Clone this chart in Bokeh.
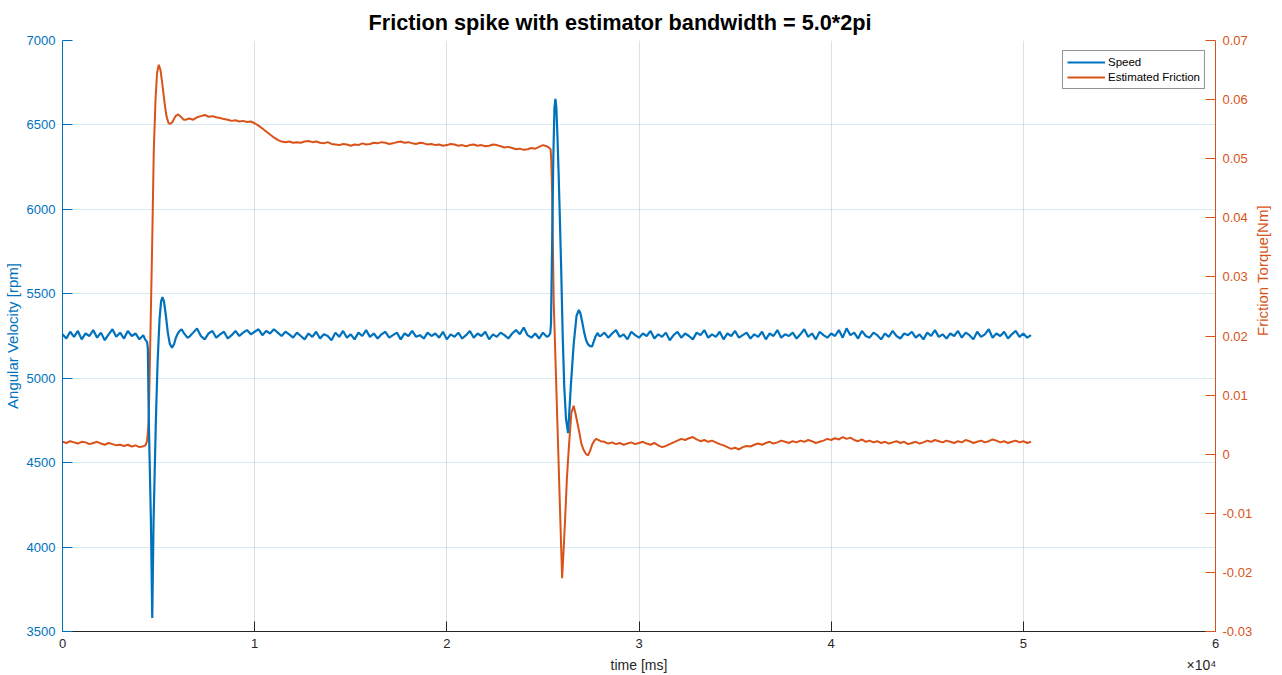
import numpy as np
from bokeh.plotting import figure
from bokeh.models import (Range1d, LinearAxis, FixedTicker, CustomJSTickFormatter,
                          Legend, LegendItem, ColumnDataSource)
from bokeh.embed import file_html
from bokeh.resources import INLINE

# ---------------- data ----------------
# Speed [rpm]
speed_t_a = list(range(0, 4201, 200))
speed_v_a = [5260, 5235, 5275, 5245, 5280, 5230, 5265, 5250, 5285, 5240, 5270,
             5225, 5260, 5290, 5245, 5270, 5235, 5280, 5250, 5265, 5230, 5255]
speed_t_tr1 = [4300, 4400, 4440, 4490, 4600, 4670, 4740, 4860, 4950, 5050, 5130, 5200,
               5280, 5380, 5480, 5580, 5700, 5800, 5900, 6000, 6100, 6200, 6300, 6400, 6500]
speed_v_tr1 = [5230, 5215, 5180, 4754, 4160, 3580, 4160, 4754, 5100, 5350, 5455, 5480,
               5455, 5370, 5270, 5205, 5180, 5200, 5240, 5265, 5280, 5290, 5270, 5255, 5240]
speed_t_b = list(range(6600, 25201, 200))
speed_v_b = [5245, 5270, 5295, 5250, 5230, 5265, 5280, 5240, 5260, 5275,
             5235, 5255, 5280, 5250, 5270, 5285, 5260, 5275, 5290, 5255,
             5280, 5265, 5290, 5270, 5250, 5275, 5260, 5240, 5270, 5250,
             5230, 5265, 5245, 5275, 5235, 5260, 5250, 5225, 5270, 5245,
             5280, 5240, 5260, 5230, 5270, 5250, 5285, 5245, 5265, 5235,
             5260, 5275, 5240, 5255, 5270, 5230, 5265, 5250, 5280, 5245,
             5255, 5235, 5270, 5250, 5265, 5240, 5275, 5230, 5260, 5245,
             5270, 5235, 5255, 5280, 5240, 5265, 5250, 5275, 5230, 5260,
             5245, 5270, 5255, 5235, 5265, 5285, 5260, 5300, 5255, 5240,
             5265, 5235, 5270, 5245]
speed_t_tr2 = [25300, 25380, 25420, 25480, 25540, 25600, 25650, 25700, 25760, 25820,
               25870, 25950, 26030, 26110, 26200, 26310, 26450, 26600, 26750, 26870,
               26950, 27050, 27150, 27250, 27350, 27450, 27560, 27650, 27750, 27850, 27930]
speed_v_tr2 = [5250, 5265, 5320, 5800, 6300, 6600, 6655, 6600, 6420, 6200,
               5995, 5650, 5250, 4950, 4760, 4675, 4950, 5200, 5370, 5404,
               5385, 5330, 5270, 5225, 5200, 5190, 5188, 5220, 5250, 5268, 5250]
speed_t_c = list(range(28000, 50401, 200))
speed_v_c = [5250, 5270, 5240, 5265, 5285, 5245, 5260, 5230, 5275, 5255,
             5240, 5265, 5250, 5280, 5235, 5260, 5245, 5270, 5225, 5255,
             5275, 5240, 5265, 5250, 5230, 5270, 5255, 5285, 5240, 5260,
             5245, 5275, 5230, 5265, 5250, 5280, 5240, 5255, 5270, 5235,
             5260, 5245, 5275, 5230, 5265, 5250, 5285, 5240, 5260, 5250,
             5270, 5235, 5260, 5290, 5245, 5265, 5230, 5275, 5255, 5240,
             5265, 5250, 5285, 5240, 5295, 5255, 5270, 5235, 5280, 5250,
             5240, 5270, 5255, 5230, 5265, 5245, 5280, 5250, 5235, 5265,
             5255, 5275, 5240, 5260, 5230, 5270, 5250, 5285, 5245, 5260,
             5235, 5265, 5250, 5280, 5240, 5270, 5255, 5230, 5275, 5245,
             5260, 5290, 5240, 5265, 5250, 5275, 5235, 5260, 5280, 5245,
             5265, 5240, 5255]

# Estimated friction [Nm]
fric_t_a = list(range(0, 4001, 200))
fric_v_a = [0.0021, 0.0019, 0.0022, 0.0020, 0.0018, 0.0021, 0.0020, 0.0017, 0.0019, 0.0021,
            0.0018, 0.0016, 0.0019, 0.0017, 0.0015, 0.0016, 0.0014, 0.0016, 0.0013, 0.0015, 0.0012]
fric_t_tr1 = [4150, 4250, 4320, 4400, 4450, 4490, 4580, 4670, 4750, 4840, 4920, 5010,
              5100, 5200, 5310, 5410, 5520, 5620, 5720, 5880, 6020, 6190, 6300]
fric_v_tr1 = [0.0013, 0.0014, 0.0015, 0.0022, 0.0040, 0.0060, 0.0210, 0.0362, 0.0514, 0.0600,
              0.0645, 0.0659, 0.0650, 0.0625, 0.0595, 0.0572, 0.0560, 0.0559, 0.0562, 0.0572,
              0.0575, 0.0570, 0.0566]
fric_t_b = list(range(6400, 25201, 200))
fric_v_b = [0.0566, 0.0568, 0.0566, 0.0570, 0.0572, 0.0574, 0.0571, 0.0572, 0.0570, 0.0569,
            0.0567, 0.0566, 0.0564, 0.0565, 0.0563, 0.0564, 0.0562, 0.0563, 0.0560, 0.0556,
            0.0551, 0.0546, 0.0541, 0.0536, 0.0532, 0.0529, 0.0528, 0.0529, 0.0527, 0.0528,
            0.0527, 0.0529, 0.0530, 0.0528, 0.0529, 0.0527, 0.0526, 0.0528, 0.0525, 0.0524,
            0.0523, 0.0525, 0.0524, 0.0522, 0.0524, 0.0523, 0.0526, 0.0524, 0.0525, 0.0527,
            0.0526, 0.0528, 0.0527, 0.0525, 0.0526, 0.0528, 0.0529, 0.0527, 0.0528, 0.0526,
            0.0525, 0.0527, 0.0526, 0.0524, 0.0525, 0.0523, 0.0524, 0.0522, 0.0523, 0.0525,
            0.0524, 0.0522, 0.0523, 0.0521, 0.0523, 0.0524, 0.0522, 0.0523, 0.0521, 0.0522,
            0.0524, 0.0523, 0.0521, 0.0519, 0.0520, 0.0518, 0.0516, 0.0517, 0.0515, 0.0516,
            0.0518, 0.0517, 0.0520, 0.0523, 0.0521]
fric_t_tr2 = [25300, 25400, 25430, 25480, 25530, 25560, 25650, 25780, 25900, 26000,
              26080, 26170, 26250, 26340, 26480, 26600, 26700, 26870, 27000, 27120,
              27250, 27350, 27460, 27560, 27680, 27780, 27900, 28000]
fric_v_tr2 = [0.0519, 0.0516, 0.0500, 0.0442, 0.0330, 0.0260, 0.0164, 0.0025, -0.0105, -0.0210,
              -0.0160, -0.0099, -0.0040, 0.0007, 0.0070, 0.0082, 0.0068, 0.0041, 0.0018, 0.0007,
              0.0000, -0.0002, 0.0006, 0.0016, 0.0023, 0.0026, 0.0024, 0.0022]
fric_t_c = list(range(28200, 50401, 200))
fric_v_c = [0.0021, 0.0018, 0.0020, 0.0017, 0.0019, 0.0016, 0.0018, 0.0020, 0.0017, 0.0019,
            0.0021, 0.0018, 0.0016, 0.0019, 0.0015, 0.0012, 0.0014, 0.0017, 0.0020, 0.0023,
            0.0026, 0.0024, 0.0027, 0.0029, 0.0025, 0.0022, 0.0024, 0.0021, 0.0023, 0.0020,
            0.0017, 0.0015, 0.0012, 0.0009, 0.0011, 0.0008, 0.0012, 0.0014, 0.0013, 0.0016,
            0.0018, 0.0016, 0.0019, 0.0021, 0.0018, 0.0020, 0.0023, 0.0021, 0.0019, 0.0022,
            0.0020, 0.0023, 0.0021, 0.0024, 0.0022, 0.0019, 0.0021, 0.0023, 0.0026, 0.0024,
            0.0027, 0.0025, 0.0029, 0.0026, 0.0028, 0.0024, 0.0022, 0.0025, 0.0021, 0.0023,
            0.0020, 0.0022, 0.0019, 0.0021, 0.0018, 0.0020, 0.0022, 0.0019, 0.0021, 0.0017,
            0.0019, 0.0021, 0.0018, 0.0020, 0.0023, 0.0021, 0.0024, 0.0022, 0.0020, 0.0023,
            0.0021, 0.0019, 0.0022, 0.0020, 0.0024, 0.0022, 0.0019, 0.0021, 0.0023, 0.0020,
            0.0022, 0.0025, 0.0023, 0.0020, 0.0022, 0.0019, 0.0021, 0.0023, 0.0020, 0.0022,
            0.0019, 0.0021]

x_ticks = [0, 10000, 20000, 30000, 40000, 50000, 60000]
left_ticks = [3500, 4000, 4500, 5000, 5500, 6000, 6500, 7000]
right_ticks = [-0.03, -0.02, -0.01, 0.0, 0.01, 0.02, 0.03, 0.04, 0.05, 0.06, 0.07]

title_text = "Friction spike with estimator bandwidth = 5.0*2pi"
xlabel_text = "time [ms]"
xexp_text = "\u00d710\u2074"
ylabel_left = "Angular Velocity [rpm]"
ylabel_right = "Friction Torque[Nm]"
series_names = ["Speed", "Estimated Friction"]

speed_t = speed_t_a + speed_t_tr1 + speed_t_b + speed_t_tr2 + speed_t_c
speed_v = speed_v_a + speed_v_tr1 + speed_v_b + speed_v_tr2 + speed_v_c
fric_t = fric_t_a + fric_t_tr1 + fric_t_b + fric_t_tr2 + fric_t_c
fric_v = fric_v_a + fric_v_tr1 + fric_v_b + fric_v_tr2 + fric_v_c
assert len(speed_t) == len(speed_v), (len(speed_t), len(speed_v))
assert len(fric_t) == len(fric_v), (len(fric_t), len(fric_v))

# ---------------- styling ----------------
BLUE = "#0072BD"
ORANGE = "#D95319"
DARK = "#262626"
FONT = "Liberation Sans"

p = figure(width=1282, height=675, output_backend="svg", toolbar_location=None,
           x_range=Range1d(0, 60000), y_range=Range1d(3500, 7000),
           min_border_left=62, min_border_right=67, min_border_top=40, min_border_bottom=43)
p.outline_line_color = None
p.background_fill_color = "white"
p.border_fill_color = "white"
p.extra_y_ranges = {"fric": Range1d(-0.03, 0.07)}

# title
p.title.text = title_text
p.title.text_font = FONT
p.title.text_font_size = "21.7px"
p.title.text_font_style = "bold"
p.title.text_color = "#000000"
p.title.align = "left"
p.title.offset = 306
p.title.standoff = 12

# x axis
xa = p.xaxis[0]
xa.ticker = FixedTicker(ticks=x_ticks)
xa.formatter = CustomJSTickFormatter(code="return (tick/10000).toFixed(0);")
xa.axis_line_color = DARK
xa.major_tick_line_color = DARK
xa.major_tick_in = 10
xa.major_tick_out = 0
xa.minor_tick_line_color = None
xa.major_label_text_color = DARK
xa.major_label_text_font = FONT
xa.major_label_text_font_size = "13px"
xa.major_label_standoff = 7

# second "axis" below, carrying only the x title and the x10^4 exponent
xa2 = LinearAxis(ticker=FixedTicker(ticks=[30000, 59270]),
                 formatter=CustomJSTickFormatter(args=dict(a=xlabel_text, b=xexp_text),
                                                 code="return tick < 40000 ? a : b;"))
xa2.axis_line_color = None
xa2.major_tick_line_color = None
xa2.minor_tick_line_color = None
xa2.major_label_text_color = DARK
xa2.major_label_text_font = FONT
xa2.major_label_text_font_size = "14px"
xa2.major_label_standoff = 0
p.add_layout(xa2, "below")

# left axis
ya = p.yaxis[0]
ya.ticker = FixedTicker(ticks=left_ticks)
ya.axis_line_color = BLUE
ya.major_tick_line_color = BLUE
ya.major_tick_in = 10
ya.major_tick_out = 0
ya.minor_tick_line_color = None
ya.major_label_text_color = BLUE
ya.major_label_text_font = FONT
ya.major_label_text_font_size = "13px"
ya.major_label_standoff = 7
ya.axis_label = ylabel_left
ya.axis_label_text_font = FONT
ya.axis_label_text_font_size = "15px"
ya.axis_label_text_font_style = "normal"
ya.axis_label_text_color = BLUE
ya.axis_label_standoff = 3

# right axis
ra = LinearAxis(y_range_name="fric", ticker=FixedTicker(ticks=right_ticks),
                formatter=CustomJSTickFormatter(
                    code="return Math.abs(tick) < 1e-9 ? '0' : tick.toFixed(2);"))
ra.axis_line_color = ORANGE
ra.major_tick_line_color = ORANGE
ra.major_tick_in = 10
ra.major_tick_out = 0
ra.minor_tick_line_color = None
ra.major_label_text_color = ORANGE
ra.major_label_text_font = FONT
ra.major_label_text_font_size = "13px"
ra.major_label_standoff = 7
p.add_layout(ra, "right")

# right axis title (bottom-to-top), as the single label of an extra axis
ra2 = LinearAxis(y_range_name="fric", ticker=FixedTicker(ticks=[0.02]),
                 formatter=CustomJSTickFormatter(args=dict(a=ylabel_right), code="return a;"))
ra2.axis_line_color = None
ra2.major_tick_line_color = None
ra2.minor_tick_line_color = None
ra2.major_label_orientation = np.pi / 2
ra2.major_label_text_color = ORANGE
ra2.major_label_text_font = FONT
ra2.major_label_text_font_size = "15px"
ra2.major_label_standoff = 1
p.add_layout(ra2, "right")

# grids
p.xgrid.ticker = FixedTicker(ticks=x_ticks)
p.xgrid.grid_line_color = DARK
p.xgrid.grid_line_alpha = 0.15
p.ygrid.ticker = FixedTicker(ticks=left_ticks)
p.ygrid.grid_line_color = BLUE
p.ygrid.grid_line_alpha = 0.15

# data lines
src_f = ColumnDataSource(dict(t=fric_t, v=fric_v))
src_s = ColumnDataSource(dict(t=speed_t, v=speed_v))
r_f = p.line("t", "v", source=src_f, y_range_name="fric", line_color=ORANGE, line_width=2)
r_s = p.line("t", "v", source=src_s, line_color=BLUE, line_width=2.2)

legend = Legend(items=[LegendItem(label=series_names[0], renderers=[r_s]),
                       LegendItem(label=series_names[1], renderers=[r_f])],
                location="top_right")
legend.margin = 10
legend.padding = 4
legend.spacing = 1
legend.label_text_font = FONT
legend.label_text_font_size = "11.5px"
legend.label_text_color = "#000000"
legend.label_height = 14
legend.glyph_height = 14
legend.glyph_width = 38
legend.label_standoff = 3
legend.border_line_color = DARK
legend.border_line_width = 1
legend.background_fill_color = "white"
legend.background_fill_alpha = 1.0
p.add_layout(legend)

open("out.html", "w").write(file_html(p, INLINE))
